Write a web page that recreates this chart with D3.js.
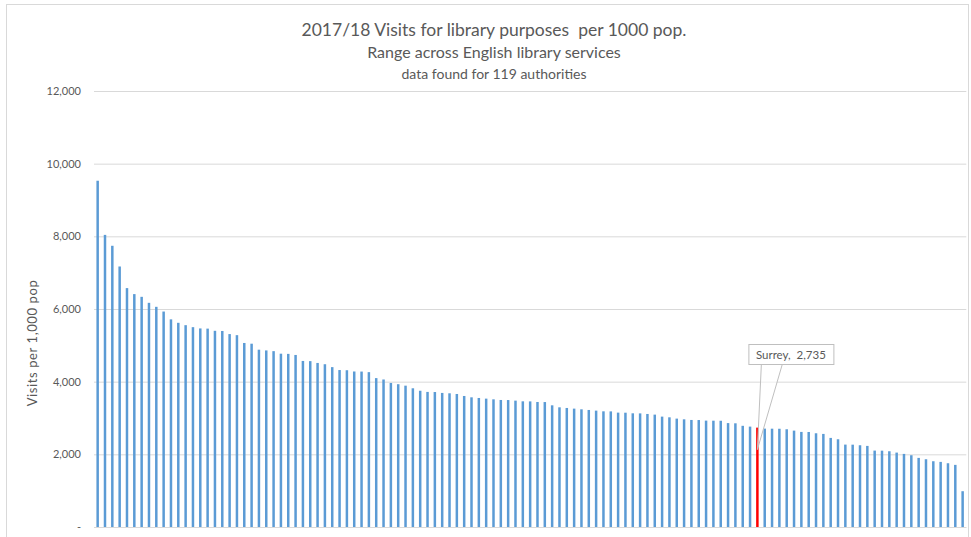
<!DOCTYPE html>
<html>
<head>
<meta charset="utf-8">
<script src="https://cdn.jsdelivr.net/npm/d3@7"></script>
<style>
  html, body { margin: 0; padding: 0; background: #ffffff; }
  svg { display: block; }
  text { font-family: Lato, "Open Sans", sans-serif; fill: #595959; }
</style>
</head>
<body>
<svg id="chart" width="971" height="537"></svg>
<script>
// Visits for library purposes per 1,000 population, 2017/18, one value per authority, sorted high to low
const visits = [
  9530, 8040, 7740, 7170, 6575, 6410, 6335, 6170, 6060, 5930,
  5715, 5620, 5555, 5500, 5465, 5460, 5400, 5395, 5310, 5280,
  5065, 5045, 4880, 4860, 4840, 4770, 4765, 4735, 4570, 4565,
  4515, 4480, 4400, 4320, 4315, 4280, 4278, 4262, 4098, 4060,
  3965, 3930, 3890, 3818, 3750, 3718, 3715, 3690, 3680, 3661,
  3606, 3569, 3551, 3533, 3514, 3496, 3494, 3478, 3459, 3457,
  3441, 3439, 3349, 3294, 3276, 3258, 3239, 3221, 3203, 3184,
  3182, 3148, 3146, 3129, 3127, 3111, 3093, 3038, 3019, 2983,
  2964, 2946, 2944, 2928, 2926, 2924, 2860, 2854, 2785, 2763,
  2735, 2708, 2706, 2704, 2690, 2653, 2617, 2615, 2580, 2562,
  2452, 2415, 2268, 2266, 2250, 2232, 2103, 2101, 2085, 2048,
  2012, 1975, 1902, 1865, 1810, 1792, 1755, 1710, 985
];
// Rank position of each authority (x categories)
const ranks = visits.map((_, i) => i + 1);
// Highlighted authority
const highlightName = "Surrey";
const highlightRank = 91;
// Y axis ticks and labels
const yTicks = [0, 2000, 4000, 6000, 8000, 10000, 12000];
const yTickLabels = ["-", "2,000", "4,000", "6,000", "8,000", "10,000", "12,000"];
// Titles
const titleLines = [
  "2017/18 Visits for library purposes  per 1000 pop.",
  "Range across English library services",
  "data found for 119 authorities"
];
const yAxisTitle = "Visits per 1,000 pop";

const svg = d3.select("#chart");

// outer chart frame
svg.append("rect")
  .attr("x", 6.5).attr("y", 4.5)
  .attr("width", 962).attr("height", 540)
  .attr("fill", "none").attr("stroke", "#d9d9d9").attr("stroke-width", 1);

const plot = { left: 94, right: 966.3, top: 91, bottom: 527 };

const x = d3.scaleBand()
  .domain(ranks)
  .range([plot.left, plot.right])
  .paddingInner(0.66)
  .paddingOuter(0.33);

const y = d3.scaleLinear()
  .domain([0, 12000])
  .range([plot.bottom, plot.top]);

// gridlines + value labels via a left axis
const yAxis = d3.axisLeft(y)
  .tickValues(yTicks)
  .tickFormat((d, i) => yTickLabels[i])
  .tickSize(-(plot.right - plot.left))
  .tickPadding(13);

const gy = svg.append("g")
  .attr("transform", `translate(${plot.left},0)`)
  .call(yAxis);
gy.select(".domain").remove();
gy.selectAll(".tick line").attr("stroke", "#d9d9d9").attr("stroke-width", 1);
gy.selectAll(".tick text")
  .attr("fill", "#595959")
  .style("font-family", "Lato, sans-serif")
  .style("font-size", "11px");

// bars
svg.append("g").selectAll("rect")
  .data(visits)
  .join("rect")
  .attr("x", (d, i) => x(ranks[i]))
  .attr("y", d => y(d))
  .attr("width", x.bandwidth())
  .attr("height", d => y(0) - y(d))
  .attr("fill", (d, i) => ranks[i] === highlightRank ? "#ff0000" : "#5b9bd5");

// category axis baseline
svg.append("line")
  .attr("x1", plot.left).attr("x2", plot.right)
  .attr("y1", y(0) + 0.5).attr("y2", y(0) + 0.5)
  .attr("stroke", "#d9d9d9");

// titles
const titleSizes = [17.5, 16, 14];
const titleYs = [36, 58, 79];
titleLines.forEach((t, i) => {
  svg.append("text")
    .attr("x", 494).attr("y", titleYs[i])
    .attr("text-anchor", "middle")
    .style("font-size", titleSizes[i] + "px")
    .style("white-space", "pre")
    .text(t);
});

// y axis title
svg.append("text")
  .attr("transform", "translate(37,343) rotate(-90)")
  .attr("text-anchor", "middle")
  .style("font-size", "13px")
  .style("letter-spacing", "0.6px")
  .text(yAxisTitle);

// callout for the highlighted authority
const hv = visits[highlightRank - 1];
const hx = x(highlightRank) + x.bandwidth() / 2;
const box = { x0: hx - 9, x1: hx + 76, y0: 344, y1: 364 };
const tip = [hx, y(hv) + 22];
svg.append("path")
  .attr("d", `M${box.x0 + 13},${box.y1} L${tip[0]},${tip[1]} L${box.x0 + 34},${box.y1} Z`)
  .attr("fill", "#ffffff").attr("fill-opacity", 0.55)
  .attr("stroke", "#bfbfbf").attr("stroke-width", 1);
svg.append("rect")
  .attr("x", box.x0 + 0.5).attr("y", box.y0 + 0.5)
  .attr("width", box.x1 - box.x0).attr("height", box.y1 - box.y0)
  .attr("fill", "#ffffff").attr("stroke", "#bfbfbf").attr("stroke-width", 1);
svg.append("text")
  .attr("x", (box.x0 + box.x1) / 2).attr("y", box.y0 + 14.5)
  .attr("text-anchor", "middle")
  .style("font-size", "11.5px")
  .style("white-space", "pre")
  .text(`${highlightName},  ${d3.format(",")(hv)}`);
</script>
</body>
</html>
